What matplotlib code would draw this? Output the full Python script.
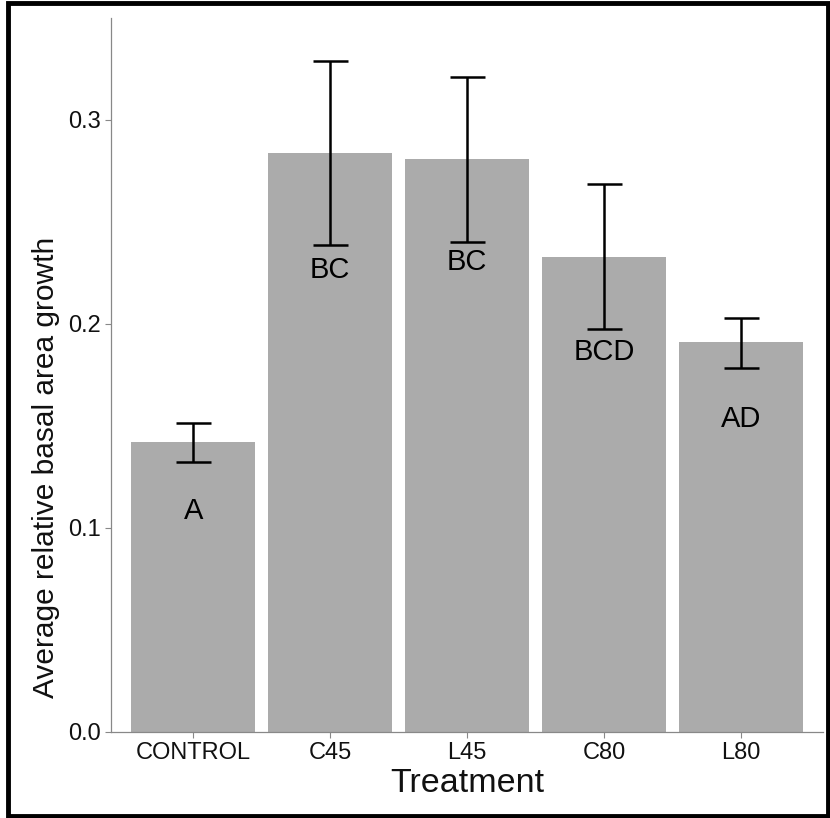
import matplotlib
matplotlib.use("Agg")
import matplotlib.pyplot as plt
from matplotlib.patches import Rectangle

treatments = ["CONTROL", "C45", "L45", "C80", "L80"]
means = [0.142, 0.284, 0.281, 0.233, 0.191]
err_low = [0.1325, 0.2385, 0.2400, 0.1975, 0.1785]
err_high = [0.1515, 0.3290, 0.3210, 0.2685, 0.2030]
letters = ["A", "BC", "BC", "BCD", "AD"]
letter_y = [0.1083, 0.2265, 0.2304, 0.1863, 0.1534]
yticks = [0.0, 0.1, 0.2, 0.3]

plt.rcParams['font.family'] = ['Liberation Sans', 'DejaVu Sans']

fig = plt.figure(figsize=(8.30, 8.18), dpi=100)
ax = fig.add_axes([111/830, 86/818, (823-111)/830, (732-18)/818])

x = list(range(len(treatments)))
ax.bar(x, means, width=0.91, color='#ababab', edgecolor='none', zorder=1)
yerr = [[m - lo for m, lo in zip(means, err_low)], [hi - m for m, hi in zip(means, err_high)]]
ax.errorbar(x, means, yerr=yerr, fmt='none', ecolor='black', elinewidth=1.8,
            capsize=12.6, capthick=1.8, zorder=3)
for xi, lab, ly in zip(x, letters, letter_y):
    ax.text(xi, ly, lab, ha='center', va='center', fontsize=21, color='black', zorder=4)

ax.set_xlim(-0.6, 4.6)
ax.set_ylim(0, 0.35)
ax.set_xticks(x)
ax.set_xticklabels(treatments)
ax.set_yticks(yticks)
ax.set_yticklabels([f"{v:.1f}" for v in yticks])
ax.tick_params(axis='both', colors='#888888', length=4, width=0.8, labelsize=17,
               labelcolor='#111111', pad=3)
for s in ['top', 'right']:
    ax.spines[s].set_visible(False)
for s in ['left', 'bottom']:
    ax.spines[s].set_color('#888888')
    ax.spines[s].set_linewidth(0.9)
ax.set_xlabel("Treatment", fontsize=24.5, color='#111111')
ax.xaxis.set_label_coords(0.5, -(783-732)/714, transform=ax.transAxes)
ax.xaxis.label.set_va('center')
ax.set_ylabel("Average relative basal area growth", fontsize=21.5, color='#111111')
ax.yaxis.set_label_coords(-(111-46)/712, (732-467)/714, transform=ax.transAxes)
ax.yaxis.label.set_va('center')

fig.patches.append(Rectangle((8/830, 2/818), (828-8)/830, (815-2)/818,
                             transform=fig.transFigure, fill=False,
                             edgecolor='black', linewidth=3.5, zorder=10))

fig.savefig("out.png", dpi=100)
